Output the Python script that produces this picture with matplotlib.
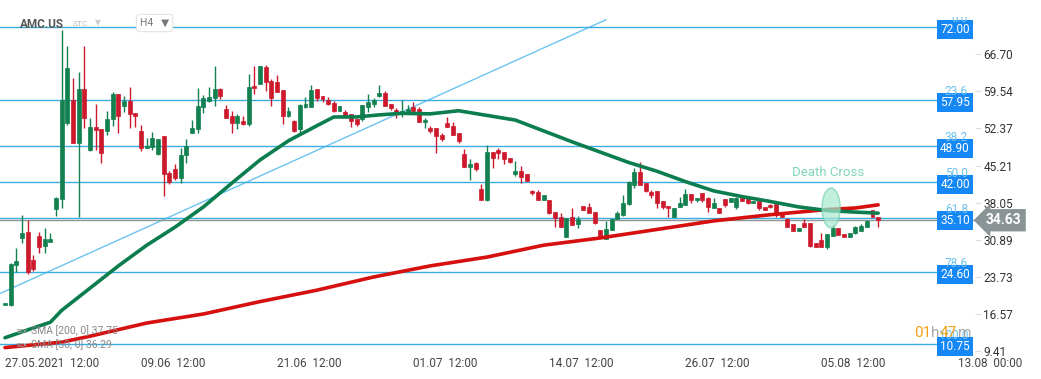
import matplotlib
matplotlib.use("Agg")
import matplotlib.pyplot as plt
import matplotlib.transforms as mtrans
from matplotlib.patches import Ellipse
import numpy as np

plt.rcParams["font.family"] = ["Roboto", "DejaVu Sans"]

# H4 candles, AMC.US, 27.05.2021 12:00 -> 10.08.2021
opens = [18.3, 18.2, 26.0, 31.2, 32.4, 26.9, 31.6, 29.6, 30.4, 36.8,
         38.7, 53.4, 57.9, 49.6, 60.0, 48.2, 52.7, 52.3, 51.9, 54.2,
         59.0, 56.7, 57.7, 55.4, 51.9, 48.6, 48.8, 47.4, 50.9, 43.8,
         44.5, 42.8, 47.2, 51.5, 52.3, 56.5, 57.7, 58.3, 60.0, 56.1,
         54.8, 53.4, 53.8, 53.2, 60.6, 61.0, 64.3, 61.6, 61.4, 59.8,
         54.8, 53.8, 52.3, 56.5, 56.5, 60.0, 58.7, 57.9, 57.3, 55.8,
         55.6, 55.2, 54.2, 54.2, 56.5, 57.1, 58.7, 59.2, 57.1, 56.0,
         55.4, 55.6, 56.5, 56.1, 53.6, 52.5, 52.5, 51.1, 53.4, 52.9,
         51.5, 47.4, 44.9, 45.7, 40.7, 38.5, 47.8, 48.2, 47.8, 46.7,
         43.6, 44.2, 43.6, 40.3, 40.1, 38.5, 38.5, 36.2, 35.3, 31.4,
         35.3, 33.9, 37.4, 37.2, 36.2, 32.7, 31.0, 32.7, 34.9, 35.6,
         37.8, 41.4, 43.9, 41.8, 40.1, 40.3, 38.4, 37.4, 35.3, 37.2,
         37.6, 39.7, 38.5, 39.9, 38.9, 37.0, 37.0, 38.7, 38.1, 37.2,
         38.9, 38.9, 37.9, 38.4, 37.2, 37.6, 37.8, 36.0, 34.9, 33.9,
         32.5, 34.1, 34.1, 30.2, 30.8, 29.4, 31.6, 33.1, 32.0, 31.4,
         32.2, 32.5, 33.3, 36.6, 35.3]
highs = [18.7, 26.4, 29.3, 35.6, 34.7, 27.9, 32.4, 33.1, 32.2, 39.1,
         71.5, 68.3, 62.1, 63.3, 68.3, 54.4, 57.1, 52.3, 55.8, 59.4,
         59.0, 58.7, 60.4, 55.4, 53.1, 50.5, 51.7, 50.3, 50.9, 44.2,
         45.5, 48.6, 50.3, 54.0, 60.2, 58.9, 60.4, 64.5, 60.2, 56.9,
         55.8, 55.2, 54.8, 62.9, 64.5, 64.5, 64.7, 61.9, 62.7, 59.8,
         56.5, 54.0, 57.1, 58.5, 60.8, 60.0, 58.7, 58.5, 57.7, 56.7,
         56.0, 55.2, 54.2, 56.9, 59.0, 58.3, 60.8, 59.6, 57.1, 56.3,
         57.9, 56.9, 57.5, 56.5, 54.4, 52.9, 52.5, 51.5, 54.6, 53.6,
         51.5, 48.4, 46.5, 45.9, 41.6, 49.2, 47.8, 48.6, 47.8, 46.7,
         46.1, 45.1, 43.6, 40.5, 40.5, 39.5, 38.5, 36.2, 36.0, 35.1,
         37.0, 35.4, 37.4, 38.0, 36.2, 32.7, 34.5, 34.9, 36.4, 39.5,
         42.2, 44.7, 45.9, 41.8, 40.5, 40.3, 38.4, 37.4, 37.0, 39.1,
         40.7, 39.7, 38.9, 39.9, 39.1, 38.9, 37.0, 38.7, 38.9, 39.1,
         39.1, 38.9, 38.4, 38.4, 37.2, 37.8, 37.8, 36.0, 35.0, 33.9,
         33.1, 34.9, 34.1, 30.2, 32.2, 32.0, 33.7, 33.1, 32.0, 32.2,
         33.5, 33.9, 34.7, 36.6, 35.3]
lows = [18.2, 18.0, 24.6, 30.2, 24.2, 24.8, 28.3, 28.3, 30.4, 35.5,
        37.0, 53.0, 49.5, 35.3, 52.5, 48.0, 48.2, 45.7, 51.1, 52.9,
        51.5, 55.6, 52.5, 52.7, 48.0, 48.6, 48.2, 47.2, 39.3, 41.6,
        42.4, 41.8, 45.7, 51.5, 51.5, 55.4, 57.5, 56.7, 58.1, 54.4,
        51.5, 52.3, 53.1, 52.9, 59.0, 61.0, 59.6, 56.7, 59.4, 53.2,
        54.6, 51.7, 51.3, 56.3, 56.5, 57.7, 57.5, 56.9, 55.6, 55.8,
        54.4, 52.7, 52.9, 53.9, 55.6, 56.5, 58.5, 56.7, 56.0, 54.4,
        54.6, 55.4, 55.6, 53.6, 52.5, 51.5, 47.6, 50.0, 52.7, 51.1,
        49.6, 44.9, 42.4, 44.2, 38.5, 38.4, 44.7, 46.5, 45.5, 45.7,
        43.2, 41.8, 42.2, 39.5, 38.5, 38.5, 35.8, 33.3, 33.3, 31.4,
        33.7, 33.1, 36.6, 36.0, 33.9, 31.2, 31.0, 32.7, 34.9, 35.5,
        37.6, 40.9, 41.4, 40.1, 38.9, 37.0, 36.8, 35.3, 35.3, 37.2,
        37.6, 38.0, 38.2, 38.2, 36.2, 37.0, 36.0, 37.2, 38.1, 36.8,
        38.4, 37.7, 37.9, 36.6, 36.6, 37.0, 35.2, 35.3, 33.3, 32.5,
        32.5, 33.3, 29.4, 29.4, 29.4, 29.1, 31.6, 31.8, 31.4, 31.4,
        32.0, 32.5, 33.3, 35.3, 33.3]
closes = [18.6, 26.2, 26.7, 32.2, 24.6, 25.2, 29.5, 31.0, 31.0, 38.9,
          57.9, 64.1, 49.6, 60.0, 54.4, 52.7, 52.1, 47.6, 54.2, 59.0,
          54.8, 57.7, 55.2, 54.8, 48.6, 49.0, 50.5, 50.3, 43.6, 42.0,
          42.8, 47.2, 49.0, 52.5, 56.7, 58.3, 58.5, 60.0, 58.7, 54.4,
          53.4, 54.8, 53.2, 60.4, 60.2, 64.5, 61.4, 58.3, 59.4, 54.8,
          55.8, 51.9, 56.9, 57.1, 59.8, 58.3, 58.1, 57.1, 55.8, 56.7,
          55.0, 53.8, 53.2, 56.9, 57.5, 57.9, 59.2, 56.7, 56.3, 55.2,
          55.8, 56.1, 55.8, 53.6, 54.0, 51.9, 50.9, 50.3, 52.7, 51.1,
          50.0, 44.9, 45.5, 44.5, 38.5, 47.8, 46.7, 47.6, 46.5, 45.9,
          44.2, 43.0, 42.2, 39.9, 38.5, 39.5, 36.0, 35.1, 33.3, 35.1,
          33.7, 34.9, 36.6, 36.0, 34.1, 31.2, 32.9, 34.9, 36.0, 37.9,
          42.0, 43.9, 41.4, 40.3, 39.5, 38.0, 37.2, 37.0, 37.0, 38.0,
          39.7, 38.5, 38.9, 38.5, 37.2, 38.0, 36.0, 37.6, 38.9, 38.9,
          38.4, 37.9, 38.4, 37.0, 36.6, 37.2, 35.6, 35.3, 33.3, 32.5,
          33.1, 33.3, 29.6, 29.4, 29.4, 32.0, 33.1, 31.8, 31.4, 32.2,
          33.3, 33.5, 34.5, 35.3, 34.6]

# moving averages (candle index -> value)
sma50_idx = [0, 5, 8, 10, 15, 20, 25, 30, 35, 40, 45, 50, 55, 58, 62, 66, 70,
             75, 80, 85, 90, 95, 100, 105, 110, 115, 120, 125, 130, 135, 140,
             145, 150, 154]
sma50_val = [11.9, 13.8, 14.9, 17.2, 21.5, 25.8, 29.8, 33.3, 37.2, 41.8, 46.3,
             50.0, 52.9, 54.6, 54.6, 55.0, 55.3, 55.2, 55.8, 54.9, 54.0, 51.9,
             49.8, 47.8, 45.8, 44.1, 42.1, 40.3, 39.2, 38.25, 37.2, 36.5, 36.2,
             36.0]
sma200_idx = [0, 10, 15, 25, 35, 45, 55, 65, 75, 85, 95, 105, 115, 125, 135,
              145, 150, 154]
sma200_val = [10.0, 11.05, 12.2, 14.75, 16.5, 18.9, 21.1, 23.65, 25.8, 27.5,
              29.8, 31.2, 32.85, 34.5, 35.7, 36.7, 37.0, 37.6]

trend_idx = [-1, 106]
trend_val = [20.4, 73.4]

fib_levels = [72.00, 57.95, 48.90, 42.00, 35.10, 24.60, 10.75]
fib_ratios = ["0.0", "23.6", "38.2", "50.0", "61.8", "78.6", "100.0"]
last_price = 34.63
ytick_vals = [66.70, 59.54, 52.37, 45.21, 38.05, 30.89, 23.73, 16.57, 9.41]
xtick_idx = [0, 24, 48, 72, 96, 120, 144, 168]
xtick_labels = ["27.05.2021  12:00", "09.06  12:00", "21.06  12:00",
                "01.07  12:00", "14.07  12:00", "26.07  12:00",
                "05.08  12:00", "13.08  00:00"]
cross_idx, cross_val = 145.7, 37.0

GREEN = "#12804f"
RED = "#cc1a2c"
FIB = "#3aaee2"

W, H = 1041, 379
fig = plt.figure(figsize=(W / 100, H / 100), dpi=100)
ax = fig.add_axes([0, 1 - 351 / H, 975 / W, (351 - 17) / H])
ax.set_xlim(-0.88, 171.08)
ax.set_ylim(9.34, 73.93)
for s in ax.spines.values():
    s.set_visible(False)

# candles
o = np.array(opens)
c = np.array(closes)
x = np.arange(len(o))
cols = np.where(c >= o, GREEN, RED)
ax.vlines(x, lows, highs, colors=cols, lw=1, zorder=3)
ax.bar(x, np.maximum(np.abs(c - o), 0.35), bottom=np.minimum(o, c), width=0.7,
       color=cols, edgecolor=cols, lw=0.5, zorder=4)

# moving averages
ax.plot(sma200_idx, sma200_val, color="#d60f0f", lw=2.6, solid_capstyle="round", zorder=5)
ax.plot(sma50_idx, sma50_val, color="#0b7d4e", lw=2.6, solid_capstyle="round", zorder=5)

# trend line
ax.plot(trend_idx, trend_val, color="#6cc3ef", lw=1, zorder=2)

# fibonacci levels
blend = mtrans.blended_transform_factory(ax.transAxes, ax.transData)
down = mtrans.ScaledTranslation(0, -2.5 / 100, fig.dpi_scale_trans)
up = mtrans.ScaledTranslation(0, 2 / 100, fig.dpi_scale_trans)
for lvl, r in zip(fib_levels, fib_ratios):
    ax.axhline(lvl, xmin=0, xmax=937 / 975, color=FIB, lw=1, zorder=2)
    ax.text(955 / 975, lvl, f"{lvl:.2f}", transform=blend + down, ha="center",
            va="center", color="white", fontsize=8.5, zorder=6,
            bbox=dict(boxstyle="square,pad=0.25", fc="#1688f5", ec="none"))
    ax.text(968 / 975, lvl, r, transform=blend + up, ha="right", va="bottom",
            color="#6cc3ee", fontsize=8.5, zorder=6, clip_on=True)

# last price
ax.axhline(last_price, color="#8d9598", lw=1, zorder=2)
right = mtrans.ScaledTranslation(11 / 100, 0, fig.dpi_scale_trans)
ax.text(1.0, last_price, f"{last_price:.2f}", transform=blend + right,
        ha="left", va="center", color="white", fontsize=10, zorder=7,
        fontweight="bold", clip_on=False,
        bbox=dict(boxstyle="larrow,pad=0.3", fc="#8a9396", ec="none"))

# death cross
ax.add_patch(Ellipse((cross_idx, cross_val), 3.2, 7.7, fc="#a8e8d0", ec="#6fd0aa",
                     alpha=0.7, lw=1, zorder=6))
ax.text(cross_idx - 0.5, 43.9, "Death Cross", color="#80d6b5", fontsize=9.5,
        ha="center", va="center", zorder=6)

# axes ticks
ax.yaxis.tick_right()
ax.set_yticks(ytick_vals, labels=[f"{v:.2f}" for v in ytick_vals])
ax.tick_params(axis="y", length=4, width=0.8, color="#dddddd", labelcolor="#333333",
               labelsize=8.5, pad=2)
ax.set_xticks(xtick_idx, labels=xtick_labels)
ax.tick_params(axis="x", length=0, pad=4, labelsize=8.5, labelcolor="#444444")
for lbl in ax.get_xticklabels():
    lbl.set_horizontalalignment("left")

# header
fig.text(20 / W, 1 - 24 / H, "AMC.US", fontsize=8.5, fontweight="bold",
         color="#555555", va="center")
fig.text(73 / W, 1 - 24 / H, "STC", fontsize=6, color="#bbbbbb", va="center")
fig.text(95 / W, 1 - 23 / H, "▼", fontsize=5.5, color="#cccccc", va="center")
fig.text(140 / W, 1 - 23 / H, "H4   ▼", fontsize=7.5, color="#777777", va="center",
         bbox=dict(boxstyle="round,pad=0.35", fc="white", ec="#e4e4e4", lw=0.8))

# legend
for ypx, txt in [(331, "SMA [200, 0] 37.75"), (345, "SMA [50, 0] 36.29")]:
    fig.text(15 / W, 1 - ypx / H, "≡×", fontsize=6.5, color="#999999", va="center")
    fig.text(31 / W, 1 - ypx / H, txt, fontsize=7.5, color="#888888", va="center")

# countdown
fig.text(914 / W, 1 - 333 / H, "01", fontsize=11, color="#f5a01a", va="center")
fig.text(931 / W, 1 - 333 / H, "h", fontsize=11, color="#aaaaaa", va="center")
fig.text(940 / W, 1 - 333 / H, "47", fontsize=11, color="#f5a01a", va="center")
fig.text(958 / W, 1 - 333 / H, "m", fontsize=11, color="#aaaaaa", va="center")

fig.savefig("out.png", dpi=100)
